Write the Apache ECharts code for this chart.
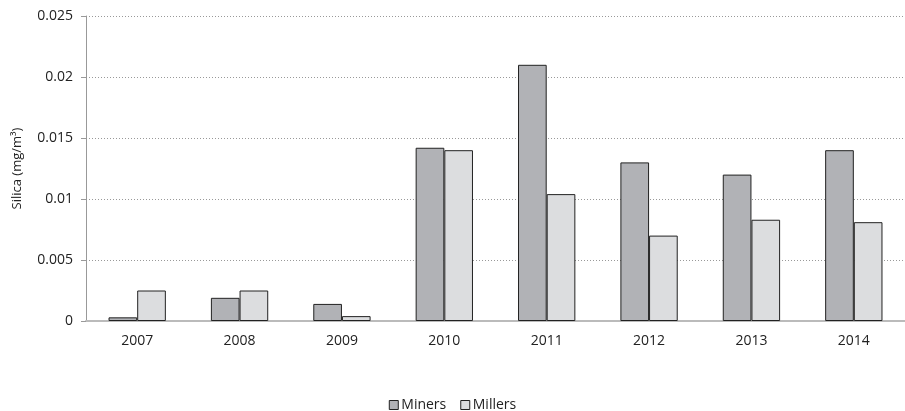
<!DOCTYPE html>
<html>
<head>
<meta charset="utf-8">
<title>Silica</title>
<script src="https://cdn.jsdelivr.net/npm/echarts@6/dist/echarts.min.js"></script>
<style>
    html,body{margin:0;padding:0;background:#fff;}
    #chart{width:905px;height:411px;}
</style>
</head>
<body>
<div id="chart"></div>
<script>
var years = ['2007','2008','2009','2010','2011','2012','2013','2014'];
var miners = [0.0003, 0.0019, 0.0014, 0.0142, 0.021, 0.013, 0.012, 0.014];
var millers = [0.0025, 0.0025, 0.0004, 0.014, 0.0104, 0.007, 0.0083, 0.0081];
var yTicks = [0, 0.005, 0.01, 0.015, 0.02, 0.025];

var font = '"Open Sans", "Liberation Sans", sans-serif';
var chart = echarts.init(document.getElementById('chart'));

var barStyle = function(color){
    return {color: color, borderColor: '#222', borderWidth: 1};
};

var option = {
    animation: false,
    textStyle: {fontFamily: font},
    grid: {left: 86, top: 16, width: 823, height: 305},
    legend: {
        top: 393,
        left: 'center',
        icon: 'rect',
        itemWidth: 9,
        itemHeight: 9,
        itemGap: 14,
        itemStyle: {borderColor: '#222', borderWidth: 1},
        textStyle: {fontSize: 14, color: '#222', padding: [0, 0, 0, -2]},
        data: ['Miners', 'Millers']
    },
    xAxis: {
        type: 'category',
        data: years,
        axisLine: {lineStyle: {color: '#bbb', width: 2}},
        axisTick: {show: false},
        axisLabel: {fontSize: 14, color: '#222', margin: 13}
    },
    yAxis: {
        type: 'value',
        min: 0,
        max: 0.025,
        interval: 0.005,
        name: 'Silica (mg/m\u00b3)',
        nameLocation: 'middle',
        nameGap: 62,
        nameTextStyle: {fontSize: 13, color: '#222'},
        axisLine: {show: true, lineStyle: {color: '#999'}},
        axisTick: {show: true, inside: false, length: 5, lineStyle: {color: '#999'}},
        splitLine: {lineStyle: {color: '#999', type: [1, 2]}},
        axisLabel: {
            fontSize: 14, color: '#222', margin: 13,
            formatter: function(v){
                var t = yTicks.find(function(k){ return Math.abs(k - v) < 1e-9; });
                return t === undefined ? '' : String(t);
            }
        }
    },
    series: [
        {name: 'Miners', type: 'bar', data: miners, barGap: '0%', barCategoryGap: '44%', itemStyle: barStyle('#b1b2b6')},
        {name: 'Millers', type: 'bar', data: millers, itemStyle: barStyle('#dcdddf')}
    ]
};
chart.setOption(option);
</script>
</body>
</html>
